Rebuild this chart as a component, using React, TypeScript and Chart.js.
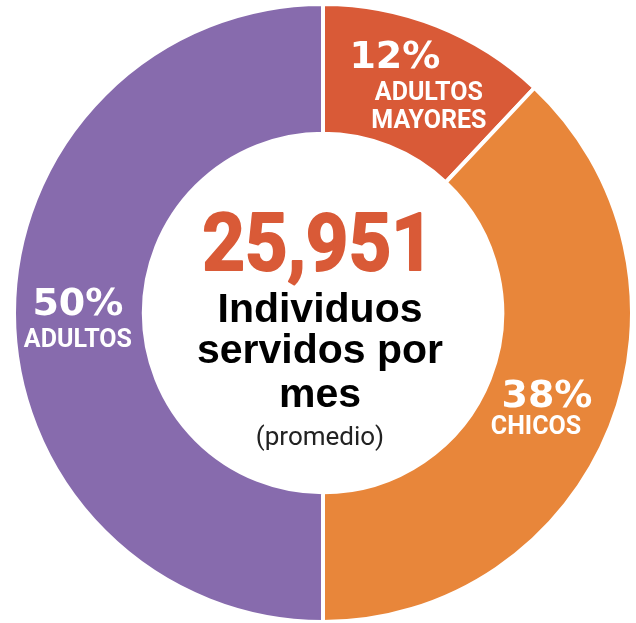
import React, { useEffect, useRef } from "react";
import { Chart, registerables } from "chart.js";

Chart.register(...registerables);

const categories = ["ADULTOS MAYORES", "CHICOS", "ADULTOS"];
const shares = [12, 38, 50];
const colors = ["#D95A37", "#E8863A", "#876BAD"];
const labelLines = [["ADULTOS", "MAYORES"], ["CHICOS"], ["ADULTOS"]];
const totalServed = "25,951";
const centerLines = ["Individuos", "servidos por", "mes"];
const centerNote = "(promedio)";

// per-slice text offsets from the slice centroid: [pctDx, pctDy, labelDx, labelDy]
const labelOffsets = [
  [-18, -18, 16, 14],
  [-3, 4, -14, 31],
  [-1, 2, -1, 34],
];

const labelPlugin = {
  id: "sliceLabels",
  afterDraw(chart: any) {
    const ctx = chart.ctx;
    const meta = chart.getDatasetMeta(0);
    ctx.save();
    ctx.textAlign = "center";
    ctx.textBaseline = "alphabetic";
    meta.data.forEach((arc: any, i: number) => {
      const p = arc.getProps(["x", "y", "startAngle", "endAngle", "innerRadius", "outerRadius"], true);
      const mid = (p.startAngle + p.endAngle) / 2;
      const r = (p.innerRadius + p.outerRadius) / 2;
      const cx = p.x + Math.cos(mid) * r;
      const cy = p.y + Math.sin(mid) * r;
      const off = labelOffsets[i];
      ctx.fillStyle = "#ffffff";
      ctx.font = "bold 38px 'DejaVu Sans'";
      ctx.fillText(shares[i] + "%", cx + off[0], cy + off[1]);
      ctx.font = "bold 25px Roboto";
      labelLines[i].forEach((line, j) => {
        ctx.fillText(line, cx + off[2], cy + off[3] + j * 28);
      });
    });
    const c = meta.data[0];
    const x0 = c.x;
    const y0 = c.y;
    ctx.save();
    ctx.translate(x0 - 5, y0 - 43);
    ctx.scale(0.93, 1);
    ctx.fillStyle = colors[0];
    ctx.strokeStyle = colors[0];
    ctx.lineWidth = 2;
    ctx.lineJoin = "round";
    ctx.font = "bold 80px Roboto";
    ctx.fillText(totalServed, 0, 0);
    ctx.strokeText(totalServed, 0, 0);
    ctx.restore();
    ctx.fillStyle = "#000000";
    ctx.font = "bold 41px 'Liberation Sans'";
    const ys = [9, 50, 94];
    centerLines.forEach((line, j) => {
      ctx.fillText(line, x0 - 3, y0 + ys[j]);
    });
    ctx.fillStyle = "#222222";
    ctx.font = "26px Roboto";
    ctx.fillText(centerNote, x0 - 3, y0 + 132);
    ctx.restore();
  },
};

export default function App() {
  const ref = useRef<HTMLCanvasElement>(null);
  useEffect(() => {
    document.body.style.overflow = "hidden";
    const chart = new Chart(ref.current as HTMLCanvasElement, {
      type: "doughnut",
      data: {
        labels: categories,
        datasets: [
          {
            data: shares,
            backgroundColor: colors,
            borderColor: "#ffffff",
            borderWidth: 4,
            hoverOffset: 0,
          },
        ],
      },
      options: {
        animation: false,
        responsive: true,
        maintainAspectRatio: false,
        cutout: "58%",
        layout: { padding: { left: 12, top: 2, right: 2, bottom: 6 } },
        plugins: {
          legend: { display: false },
          tooltip: { enabled: false },
        },
        events: [],
      },
      plugins: [labelPlugin],
    });
    return () => chart.destroy();
  }, []);
  return (
    <div style={{ position: "fixed", left: 0, top: 0, width: 636, height: 623, overflow: "hidden", background: "#fff" }}>
      <div style={{ position: "relative", width: 636, height: 630 }}>
        <canvas ref={ref} />
      </div>
    </div>
  );
}
